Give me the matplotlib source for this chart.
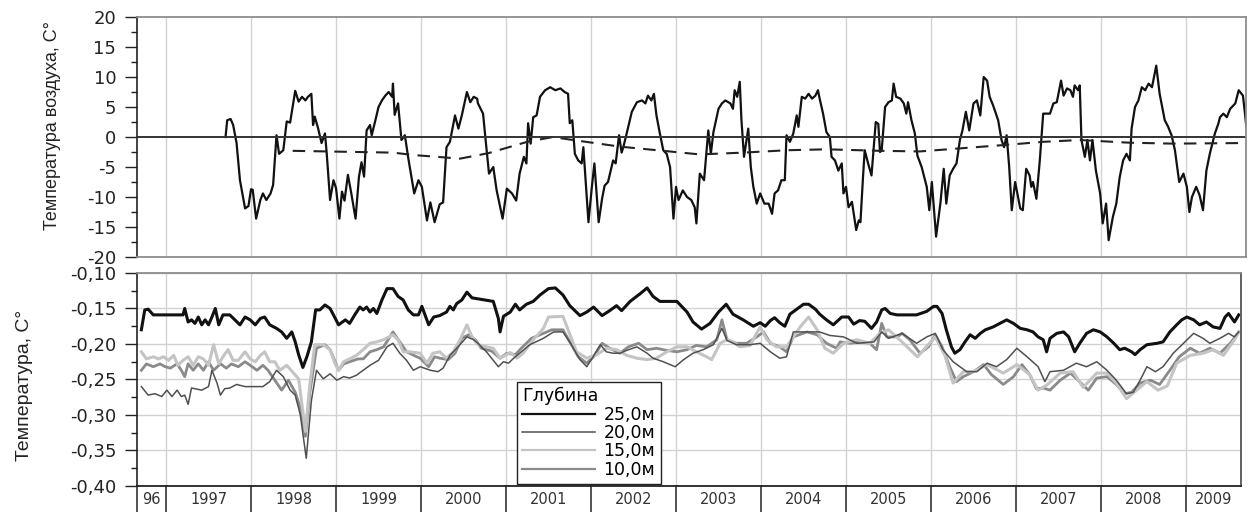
import matplotlib.pyplot as plt
from matplotlib.ticker import MultipleLocator, FuncFormatter

plt.rcParams['font.family'] = ['DejaVu Sans']
plt.rcParams['axes.unicode_minus'] = False

# air temperature, decimal year / degC
air_t = [1997.70, 1997.72, 1997.76, 1997.79, 1997.83, 1997.87, 1997.93, 1997.97, 1998.00, 1998.02,
         1998.06, 1998.11, 1998.14, 1998.18, 1998.23, 1998.26, 1998.30, 1998.33, 1998.38, 1998.42,
         1998.46, 1998.52, 1998.56, 1998.60, 1998.64, 1998.67, 1998.71, 1998.73, 1998.75, 1998.79,
         1998.83, 1998.87, 1998.89, 1998.93, 1998.97, 1999.00, 1999.04, 1999.07, 1999.10, 1999.14,
         1999.18, 1999.23, 1999.27, 1999.30, 1999.33, 1999.36, 1999.40, 1999.42, 1999.46, 1999.50,
         1999.54, 1999.58, 1999.62, 1999.66, 1999.67, 1999.69, 1999.73, 1999.77, 1999.81, 1999.85,
         1999.92, 1999.97, 2000.01, 2000.07, 2000.11, 2000.16, 2000.22, 2000.26, 2000.30, 2000.34,
         2000.40, 2000.44, 2000.48, 2000.54, 2000.58, 2000.62, 2000.66, 2000.67, 2000.73, 2000.76,
         2000.80, 2000.85, 2000.89, 2000.96, 2001.01, 2001.07, 2001.12, 2001.16, 2001.21, 2001.24,
         2001.26, 2001.29, 2001.32, 2001.36, 2001.40, 2001.46, 2001.52, 2001.58, 2001.64, 2001.69,
         2001.73, 2001.75, 2001.78, 2001.81, 2001.85, 2001.89, 2001.91, 2001.97, 2002.01, 2002.04,
         2002.09, 2002.13, 2002.16, 2002.20, 2002.26, 2002.29, 2002.33, 2002.36, 2002.38, 2002.42,
         2002.48, 2002.54, 2002.60, 2002.64, 2002.67, 2002.71, 2002.74, 2002.77, 2002.81, 2002.85,
         2002.89, 2002.93, 2002.97, 2003.00, 2003.03, 2003.08, 2003.13, 2003.18, 2003.22, 2003.24,
         2003.28, 2003.33, 2003.38, 2003.41, 2003.44, 2003.50, 2003.54, 2003.58, 2003.64, 2003.67,
         2003.69, 2003.72, 2003.75, 2003.77, 2003.80, 2003.85, 2003.88, 2003.91, 2003.95, 2003.99,
         2004.04, 2004.09, 2004.13, 2004.16, 2004.20, 2004.24, 2004.28, 2004.30, 2004.34, 2004.38,
         2004.42, 2004.44, 2004.48, 2004.52, 2004.56, 2004.60, 2004.64, 2004.67, 2004.69, 2004.73,
         2004.77, 2004.81, 2004.83, 2004.87, 2004.91, 2004.95, 2004.97, 2005.00, 2005.03, 2005.07,
         2005.12, 2005.15, 2005.17, 2005.20, 2005.22, 2005.26, 2005.30, 2005.35, 2005.38, 2005.40,
         2005.42, 2005.46, 2005.50, 2005.54, 2005.56, 2005.59, 2005.64, 2005.68, 2005.71, 2005.73,
         2005.77, 2005.81, 2005.84, 2005.89, 2005.95, 2005.98, 2006.01, 2006.06, 2006.11, 2006.15,
         2006.18, 2006.22, 2006.26, 2006.30, 2006.34, 2006.37, 2006.41, 2006.45, 2006.50, 2006.54,
         2006.58, 2006.62, 2006.66, 2006.69, 2006.73, 2006.79, 2006.83, 2006.86, 2006.89, 2006.92,
         2006.95, 2006.99, 2007.05, 2007.08, 2007.12, 2007.16, 2007.18, 2007.20, 2007.24, 2007.28,
         2007.32, 2007.40, 2007.44, 2007.48, 2007.53, 2007.56, 2007.60, 2007.64, 2007.67, 2007.69,
         2007.73, 2007.75, 2007.77, 2007.81, 2007.84, 2007.87, 2007.90, 2007.94, 2007.99, 2008.02,
         2008.06, 2008.09, 2008.14, 2008.18, 2008.22, 2008.26, 2008.30, 2008.34, 2008.36, 2008.40,
         2008.44, 2008.48, 2008.52, 2008.56, 2008.60, 2008.65, 2008.69, 2008.75, 2008.79, 2008.83,
         2008.87, 2008.92, 2008.97, 2009.01, 2009.04, 2009.07, 2009.12, 2009.16, 2009.20, 2009.24,
         2009.28, 2009.34, 2009.38, 2009.40, 2009.44, 2009.48, 2009.52, 2009.58, 2009.62, 2009.67,
         2009.69, 2009.71]
air_v = [0.0, 2.8, 3.0, 2.0, -1.0, -7.2, -11.9, -11.5, -8.7, -8.8,
         -13.6, -10.5, -9.4, -10.5, -9.4, -8.0, 0.3, -2.8, -2.2, 2.6,
         2.4, 7.7, 5.9, 6.7, 6.1, 6.7, 7.2, 2.0, 3.4, 1.4,
         -1.0, 0.6, -2.6, -10.5, -7.2, -8.5, -13.6, -9.1, -10.6, -6.3,
         -9.4, -13.6, -6.6, -4.2, -6.6, 1.1, 2.0, 0.3, 2.6, 5.0,
         6.1, 6.9, 7.5, 6.7, 8.9, 3.7, 5.6, -0.5, 0.3, -3.5,
         -9.4, -7.2, -8.3, -13.9, -10.9, -14.2, -11.2, -10.9, -1.7, -0.8,
         3.6, 1.4, 3.6, 7.5, 5.8, 6.7, 6.4, 5.6, 3.9, -0.5,
         -6.1, -5.0, -8.9, -13.6, -8.6, -9.4, -10.6, -6.1, -3.3, -4.4,
         2.3, -1.1, 3.3, 3.6, 6.7, 7.8, 8.3, 7.8, 8.1, 7.5,
         7.2, 2.3, 2.8, -2.8, -3.9, -4.4, -1.7, -14.2, -8.3, -4.4,
         -14.2, -10.3, -8.1, -7.5, -3.9, -4.4, 0.3, -2.6, -1.7, 0.6,
         4.2, 5.8, 6.1, 5.6, 6.9, 6.1, 7.2, 3.6, 0.6, -2.2,
         -2.8, -5.0, -13.6, -8.3, -10.5, -8.9, -10.0, -10.5, -11.7, -14.4,
         -6.1, -7.2, 1.1, -2.8, 0.8, 4.7, 5.6, 6.1, 5.6, 4.7,
         7.8, 6.7, 9.2, 2.8, -3.3, 1.4, -5.0, -8.3, -11.1, -9.4,
         -11.1, -11.1, -12.8, -9.4, -8.9, -7.2, -7.2, 0.3, -0.8, 0.6,
         3.6, 1.7, 6.7, 6.4, 7.2, 6.4, 6.9, 7.8, 6.4, 3.9,
         0.8, 0.0, -3.3, -3.9, -5.6, -4.4, -9.4, -8.3, -11.7, -10.8,
         -15.5, -13.9, -14.2, -6.7, -2.2, -4.4, -6.4, 2.5, 2.2, -2.5,
         -2.2, 5.0, 5.8, 6.1, 8.9, 6.7, 6.4, 5.6, 3.9, 5.8,
         2.8, 0.6, -3.1, -5.0, -8.3, -12.2, -7.5, -16.6, -11.1, -5.3,
         -11.1, -6.4, -5.3, -4.4, -0.5, 1.1, 4.2, 1.1, 5.6, 6.1,
         3.6, 10.0, 9.4, 6.7, 5.3, 2.8, -0.5, -1.7, 0.3, -5.0,
         -12.2, -7.5, -11.9, -12.2, -5.3, -6.4, -8.3, -7.5, -10.3, -3.9,
         3.9, 3.9, 5.6, 5.8, 9.4, 6.9, 8.1, 7.8, 6.7, 8.6,
         7.8, 8.6, -0.5, -3.3, -0.5, -3.9, -0.5, -5.6, -9.4, -14.4,
         -11.1, -17.2, -13.3, -11.1, -6.7, -3.9, -2.8, -3.9, 1.4, 5.0,
         6.1, 8.3, 7.8, 8.9, 8.3, 11.9, 7.2, 2.8, 1.7, 0.3,
         -2.2, -7.5, -6.1, -8.3, -12.5, -10.0, -8.3, -9.7, -12.2, -5.6,
         -2.8, 0.6, 2.2, 3.3, 3.9, 3.3, 4.7, 5.6, 7.8, 6.9,
         4.4, 1.7]

# running annual mean of air temperature
mean_t = [1998.49, 1999.67, 1999.91, 2000.46, 2000.79, 2001.25, 2001.55, 2001.79, 2002.34, 2002.85,
          2003.28, 2003.79, 2004.31, 2004.78, 2005.40, 2005.87, 2006.89, 2007.32, 2007.75, 2008.34,
          2008.85, 2009.69]
mean_v = [-2.3, -2.6, -3.0, -3.6, -2.7, -0.8, 0.0, -0.5, -1.6, -2.3,
          -2.9, -2.6, -2.2, -2.05, -2.3, -2.4, -1.3, -0.8, -0.5, -0.95,
          -1.1, -1.0]

# ground temperature, 25 m
t25 = [1996.71, 1996.75, 1996.79, 1996.85, 1997.20, 1997.22, 1997.26, 1997.30, 1997.34, 1997.38,
       1997.42, 1997.46, 1997.50, 1997.54, 1997.58, 1997.62, 1997.67, 1997.75, 1997.81, 1997.87,
       1997.93, 1997.99, 1998.05, 1998.11, 1998.16, 1998.22, 1998.30, 1998.36, 1998.42, 1998.48,
       1998.52, 1998.56, 1998.61, 1998.66, 1998.71, 1998.76, 1998.81, 1998.87, 1998.93, 1998.97,
       1999.03, 1999.11, 1999.16, 1999.22, 1999.28, 1999.32, 1999.36, 1999.40, 1999.44, 1999.48,
       1999.54, 1999.60, 1999.67, 1999.73, 1999.79, 1999.85, 1999.91, 1999.97, 2000.01, 2000.09,
       2000.15, 2000.22, 2000.30, 2000.34, 2000.38, 2000.42, 2000.48, 2000.54, 2000.60, 2000.85,
       2000.91, 2000.93, 2000.97, 2001.05, 2001.11, 2001.16, 2001.24, 2001.32, 2001.40, 2001.50,
       2001.58, 2001.67, 2001.75, 2001.87, 2001.95, 2002.03, 2002.13, 2002.22, 2002.30, 2002.36,
       2002.46, 2002.58, 2002.66, 2002.73, 2002.81, 2003.01, 2003.13, 2003.20, 2003.30, 2003.40,
       2003.50, 2003.59, 2003.67, 2003.79, 2003.91, 2003.99, 2004.05, 2004.11, 2004.16, 2004.22,
       2004.28, 2004.34, 2004.42, 2004.50, 2004.56, 2004.64, 2004.69, 2004.77, 2004.85, 2004.95,
       2005.03, 2005.09, 2005.16, 2005.22, 2005.30, 2005.36, 2005.42, 2005.46, 2005.52, 2005.60,
       2005.83, 2005.95, 2006.03, 2006.07, 2006.13, 2006.18, 2006.24, 2006.28, 2006.34, 2006.40,
       2006.46, 2006.52, 2006.58, 2006.64, 2006.73, 2006.81, 2006.89, 2006.97, 2007.05, 2007.13,
       2007.20, 2007.26, 2007.32, 2007.36, 2007.40, 2007.48, 2007.56, 2007.62, 2007.69, 2007.75,
       2007.83, 2007.91, 2007.99, 2008.07, 2008.15, 2008.22, 2008.28, 2008.36, 2008.40, 2008.46,
       2008.54, 2008.66, 2008.73, 2008.81, 2008.89, 2008.95, 2009.01, 2009.09, 2009.16, 2009.24,
       2009.32, 2009.40, 2009.46, 2009.50, 2009.57, 2009.62]
v25 = [-0.180, -0.152, -0.151, -0.159, -0.159, -0.150, -0.169, -0.166, -0.171, -0.162,
       -0.173, -0.166, -0.173, -0.162, -0.150, -0.173, -0.159, -0.159, -0.166, -0.173,
       -0.162, -0.166, -0.173, -0.164, -0.162, -0.173, -0.178, -0.183, -0.192, -0.183,
       -0.197, -0.215, -0.233, -0.217, -0.197, -0.152, -0.152, -0.145, -0.150, -0.159,
       -0.173, -0.166, -0.171, -0.159, -0.148, -0.152, -0.148, -0.155, -0.150, -0.157,
       -0.138, -0.122, -0.122, -0.133, -0.138, -0.152, -0.159, -0.159, -0.147, -0.173,
       -0.162, -0.160, -0.155, -0.147, -0.152, -0.143, -0.138, -0.127, -0.135, -0.140,
       -0.164, -0.183, -0.161, -0.155, -0.144, -0.152, -0.144, -0.140, -0.131, -0.122,
       -0.121, -0.131, -0.146, -0.160, -0.155, -0.148, -0.160, -0.153, -0.146, -0.153,
       -0.140, -0.129, -0.121, -0.133, -0.140, -0.140, -0.155, -0.169, -0.179, -0.171,
       -0.155, -0.144, -0.158, -0.166, -0.175, -0.170, -0.175, -0.167, -0.163, -0.170,
       -0.175, -0.158, -0.151, -0.144, -0.144, -0.151, -0.158, -0.166, -0.173, -0.162,
       -0.162, -0.172, -0.167, -0.168, -0.178, -0.169, -0.152, -0.150, -0.157, -0.159,
       -0.159, -0.154, -0.147, -0.147, -0.157, -0.180, -0.204, -0.213, -0.208, -0.197,
       -0.187, -0.192, -0.185, -0.180, -0.176, -0.171, -0.166, -0.171, -0.178, -0.180,
       -0.183, -0.190, -0.194, -0.211, -0.192, -0.185, -0.183, -0.190, -0.211, -0.199,
       -0.185, -0.180, -0.183, -0.190, -0.199, -0.208, -0.206, -0.211, -0.215, -0.208,
       -0.201, -0.199, -0.197, -0.183, -0.173, -0.166, -0.162, -0.166, -0.173, -0.169,
       -0.176, -0.178, -0.162, -0.157, -0.169, -0.159]

# ground temperature, 20 m
t20 = [1996.71, 1996.79, 1996.87, 1996.95, 1997.01, 1997.07, 1997.13, 1997.18, 1997.22, 1997.26,
       1997.30, 1997.42, 1997.50, 1997.54, 1997.60, 1997.64, 1997.69, 1997.75, 1997.83, 1997.93,
       1998.14, 1998.22, 1998.30, 1998.38, 1998.46, 1998.52, 1998.58, 1998.65, 1998.71, 1998.77,
       1998.85, 1998.93, 1999.01, 1999.09, 1999.16, 1999.24, 1999.32, 1999.40, 1999.50, 1999.60,
       1999.67, 1999.75, 1999.83, 1999.91, 1999.99, 2000.11, 2000.20, 2000.26, 2000.34, 2000.42,
       2000.54, 2000.62, 2000.67, 2000.77, 2000.91, 2000.97, 2001.03, 2001.09, 2001.16, 2001.28,
       2001.44, 2001.56, 2001.67, 2001.77, 2001.87, 2001.95, 2002.05, 2002.11, 2002.18, 2002.26,
       2002.34, 2002.42, 2002.54, 2002.66, 2002.73, 2002.85, 2002.99, 2003.09, 2003.20, 2003.32,
       2003.44, 2003.54, 2003.60, 2003.71, 2003.87, 2003.99, 2004.11, 2004.22, 2004.30, 2004.38,
       2004.58, 2004.69, 2004.81, 2004.97, 2005.13, 2005.33, 2005.42, 2005.50, 2005.66, 2005.83,
       2005.95, 2006.05, 2006.14, 2006.26, 2006.42, 2006.54, 2006.66, 2006.77, 2006.89, 2007.01,
       2007.13, 2007.26, 2007.34, 2007.40, 2007.56, 2007.71, 2007.83, 2007.95, 2008.07, 2008.18,
       2008.30, 2008.38, 2008.46, 2008.54, 2008.64, 2008.73, 2008.85, 2008.97, 2009.09, 2009.20,
       2009.28, 2009.40, 2009.50, 2009.57, 2009.62]
v20 = [-0.260, -0.272, -0.270, -0.274, -0.265, -0.274, -0.265, -0.274, -0.272, -0.285,
       -0.262, -0.265, -0.260, -0.237, -0.255, -0.272, -0.263, -0.262, -0.257, -0.260,
       -0.260, -0.253, -0.237, -0.246, -0.265, -0.272, -0.300, -0.361, -0.280, -0.237,
       -0.249, -0.242, -0.251, -0.246, -0.248, -0.244, -0.237, -0.230, -0.223, -0.204,
       -0.199, -0.213, -0.223, -0.237, -0.232, -0.237, -0.239, -0.234, -0.216, -0.206,
       -0.190, -0.194, -0.199, -0.211, -0.232, -0.225, -0.227, -0.220, -0.213, -0.201,
       -0.192, -0.183, -0.183, -0.201, -0.222, -0.232, -0.213, -0.201, -0.211, -0.213,
       -0.213, -0.209, -0.204, -0.213, -0.220, -0.225, -0.232, -0.222, -0.213, -0.208,
       -0.201, -0.178, -0.195, -0.201, -0.201, -0.199, -0.211, -0.220, -0.218, -0.183,
       -0.183, -0.183, -0.188, -0.190, -0.199, -0.197, -0.183, -0.192, -0.185, -0.199,
       -0.190, -0.185, -0.208, -0.225, -0.239, -0.239, -0.227, -0.232, -0.222, -0.206,
       -0.218, -0.232, -0.253, -0.239, -0.237, -0.227, -0.232, -0.225, -0.237, -0.251,
       -0.270, -0.268, -0.251, -0.232, -0.239, -0.232, -0.213, -0.199, -0.185, -0.192,
       -0.199, -0.192, -0.185, -0.190, -0.183]

# ground temperature, 15 m
t15 = [1996.71, 1996.77, 1996.85, 1996.91, 1996.97, 1997.03, 1997.09, 1997.14, 1997.20, 1997.26,
       1997.32, 1997.38, 1997.44, 1997.50, 1997.56, 1997.62, 1997.67, 1997.73, 1997.79, 1997.85,
       1997.93, 1997.99, 1998.05, 1998.11, 1998.16, 1998.22, 1998.28, 1998.34, 1998.42, 1998.50,
       1998.56, 1998.64, 1998.69, 1998.75, 1998.85, 1998.93, 1998.99, 1999.03, 1999.09, 1999.16,
       1999.24, 1999.32, 1999.40, 1999.48, 1999.56, 1999.67, 1999.73, 1999.79, 1999.87, 1999.99,
       2000.07, 2000.14, 2000.22, 2000.30, 2000.38, 2000.46, 2000.54, 2000.60, 2000.67, 2000.77,
       2000.85, 2000.93, 2000.99, 2001.05, 2001.13, 2001.20, 2001.32, 2001.44, 2001.50, 2001.67,
       2001.73, 2001.83, 2001.95, 2002.07, 2002.18, 2002.30, 2002.42, 2002.54, 2002.66, 2002.77,
       2002.89, 2003.01, 2003.13, 2003.24, 2003.36, 2003.42, 2003.52, 2003.60, 2003.67, 2003.75,
       2003.87, 2003.99, 2004.07, 2004.18, 2004.30, 2004.46, 2004.56, 2004.66, 2004.75, 2004.85,
       2004.97, 2005.13, 2005.28, 2005.40, 2005.50, 2005.64, 2005.84, 2006.05, 2006.16, 2006.26,
       2006.38, 2006.50, 2006.66, 2006.85, 2007.01, 2007.16, 2007.26, 2007.36, 2007.52, 2007.67,
       2007.79, 2007.95, 2008.07, 2008.18, 2008.30, 2008.42, 2008.54, 2008.67, 2008.78, 2008.89,
       2009.05, 2009.20, 2009.32, 2009.44, 2009.57, 2009.62]
v15 = [-0.211, -0.221, -0.218, -0.221, -0.218, -0.223, -0.216, -0.230, -0.223, -0.218,
       -0.230, -0.218, -0.221, -0.230, -0.201, -0.228, -0.218, -0.208, -0.223, -0.223,
       -0.211, -0.221, -0.225, -0.216, -0.211, -0.225, -0.225, -0.237, -0.230, -0.241,
       -0.249, -0.323, -0.260, -0.201, -0.201, -0.208, -0.228, -0.237, -0.225, -0.221,
       -0.216, -0.208, -0.199, -0.197, -0.194, -0.187, -0.194, -0.211, -0.211, -0.213,
       -0.227, -0.213, -0.211, -0.220, -0.211, -0.194, -0.173, -0.190, -0.201, -0.204,
       -0.206, -0.220, -0.216, -0.212, -0.220, -0.213, -0.194, -0.178, -0.162, -0.161,
       -0.180, -0.211, -0.220, -0.215, -0.206, -0.208, -0.216, -0.220, -0.222, -0.220,
       -0.211, -0.204, -0.204, -0.211, -0.218, -0.222, -0.199, -0.194, -0.197, -0.204,
       -0.202, -0.176, -0.194, -0.204, -0.204, -0.176, -0.162, -0.180, -0.206, -0.213,
       -0.199, -0.194, -0.199, -0.185, -0.180, -0.195, -0.218, -0.190, -0.215, -0.255,
       -0.239, -0.239, -0.229, -0.241, -0.229, -0.243, -0.265, -0.258, -0.241, -0.239,
       -0.261, -0.241, -0.241, -0.255, -0.277, -0.265, -0.253, -0.265, -0.259, -0.227,
       -0.216, -0.213, -0.208, -0.216, -0.194, -0.183]

# ground temperature, 10 m
t10 = [1996.71, 1996.77, 1996.85, 1996.93, 1996.99, 1997.05, 1997.13, 1997.18, 1997.22, 1997.26,
       1997.32, 1997.38, 1997.44, 1997.50, 1997.56, 1997.64, 1997.71, 1997.77, 1997.85, 1997.93,
       1997.99, 1998.07, 1998.14, 1998.20, 1998.28, 1998.36, 1998.44, 1998.52, 1998.58, 1998.64,
       1998.69, 1998.77, 1998.87, 1998.93, 1998.99, 1999.03, 1999.09, 1999.16, 1999.26, 1999.32,
       1999.40, 1999.48, 1999.56, 1999.67, 1999.75, 1999.83, 1999.95, 1999.99, 2000.09, 2000.16,
       2000.22, 2000.32, 2000.40, 2000.48, 2000.56, 2000.64, 2000.71, 2000.83, 2000.93, 2001.01,
       2001.11, 2001.18, 2001.30, 2001.40, 2001.54, 2001.67, 2001.75, 2001.85, 2001.95, 2002.03,
       2002.13, 2002.22, 2002.34, 2002.44, 2002.56, 2002.66, 2002.77, 2002.89, 2003.01, 2003.13,
       2003.24, 2003.36, 2003.48, 2003.54, 2003.60, 2003.71, 2003.83, 2003.95, 2004.03, 2004.11,
       2004.22, 2004.30, 2004.38, 2004.54, 2004.66, 2004.77, 2004.89, 2004.93, 2005.05, 2005.16,
       2005.28, 2005.36, 2005.42, 2005.48, 2005.60, 2005.66, 2005.75, 2005.87, 2005.97, 2006.05,
       2006.13, 2006.22, 2006.30, 2006.38, 2006.50, 2006.62, 2006.71, 2006.85, 2006.97, 2007.07,
       2007.16, 2007.24, 2007.32, 2007.40, 2007.52, 2007.64, 2007.73, 2007.85, 2007.95, 2008.07,
       2008.18, 2008.28, 2008.36, 2008.46, 2008.58, 2008.69, 2008.81, 2008.92, 2009.05, 2009.16,
       2009.28, 2009.40, 2009.52, 2009.62]
v10 = [-0.237, -0.228, -0.232, -0.228, -0.232, -0.234, -0.228, -0.237, -0.246, -0.228,
       -0.237, -0.228, -0.237, -0.225, -0.237, -0.228, -0.234, -0.228, -0.232, -0.225,
       -0.230, -0.237, -0.230, -0.237, -0.251, -0.265, -0.251, -0.268, -0.290, -0.330,
       -0.270, -0.206, -0.201, -0.208, -0.225, -0.237, -0.228, -0.225, -0.221, -0.221,
       -0.211, -0.208, -0.204, -0.183, -0.197, -0.211, -0.218, -0.220, -0.232, -0.218,
       -0.220, -0.222, -0.213, -0.192, -0.187, -0.194, -0.206, -0.210, -0.220, -0.213,
       -0.215, -0.206, -0.192, -0.187, -0.180, -0.180, -0.197, -0.218, -0.227, -0.218,
       -0.199, -0.206, -0.213, -0.204, -0.199, -0.208, -0.206, -0.209, -0.211, -0.208,
       -0.202, -0.204, -0.194, -0.166, -0.194, -0.199, -0.199, -0.190, -0.183, -0.199,
       -0.204, -0.211, -0.190, -0.183, -0.187, -0.199, -0.206, -0.197, -0.199, -0.197,
       -0.199, -0.208, -0.171, -0.190, -0.190, -0.185, -0.194, -0.213, -0.204, -0.187,
       -0.204, -0.232, -0.253, -0.246, -0.239, -0.229, -0.243, -0.257, -0.246, -0.229,
       -0.243, -0.263, -0.262, -0.265, -0.251, -0.241, -0.251, -0.265, -0.248, -0.246,
       -0.257, -0.270, -0.268, -0.255, -0.251, -0.257, -0.237, -0.218, -0.206, -0.213,
       -0.206, -0.213, -0.199, -0.183]

years = list(range(1997, 2010))
year_labels = ['96'] + [str(y) for y in years]
depth_labels = ['25,0м', '20,0м', '15,0м', '10,0м']
t_start, t_end_top, t_end_bottom = 1996.659, 2009.706, 2009.647

fig = plt.figure(figsize=(12.48, 5.12), dpi=100, facecolor='white')
ax1 = fig.add_axes([0.1098, 0.498, 0.8886, 0.46875])
ax2 = fig.add_axes([0.1098, 0.0508, 0.8846, 0.416])

grid_color = '#d2d2d2'
frame_color = '#8c8c8c'


def style_axis(ax):
    ax.tick_params(axis='y', which='major', direction='out', length=9, width=1,
                   color='#222222', labelsize=13, pad=6, labelcolor='#222222')
    ax.tick_params(axis='y', which='minor', direction='out', length=4.5, width=1, color='#222222')
    ax.tick_params(axis='x', which='both', length=0, labelbottom=False)
    ax.set_xticks(years)
    ax.spines['left'].set_color('#222222')
    ax.spines['left'].set_linewidth(1.2)
    for side in ('top', 'right', 'bottom'):
        ax.spines[side].set_color(frame_color)
        ax.spines[side].set_linewidth(1.3)


# --- air temperature panel ---
ax1.plot(air_t, air_v, color='#111111', lw=1.6, solid_joinstyle='round')
ax1.plot(mean_t, mean_v, color='#222222', lw=1.5, dashes=(6, 4))
ax1.axhline(0, color='#333333', lw=1.4)
ax1.set_xlim(t_start, t_end_top)
ax1.set_ylim(-20, 20)
ax1.yaxis.set_major_locator(MultipleLocator(5))
ax1.yaxis.set_minor_locator(MultipleLocator(2.5))
ax1.yaxis.set_major_formatter(FuncFormatter(lambda v, p: f'{v:.0f}'))
ax1.grid(axis='x', color=grid_color, lw=1)
style_axis(ax1)
ax1.set_ylabel('Температура воздуха, С°', fontsize=13,
               family=['Liberation Sans Narrow', 'Liberation Sans'], color='#222222')
ax1.yaxis.set_label_coords(-0.069, 0.546)

# --- ground temperature panel ---
l25, = ax2.plot(t25, v25, color='#111111', lw=2.2, solid_joinstyle='round')
l10, = ax2.plot(t10, v10, color='#8a8a8a', lw=2.0, solid_joinstyle='round')
l15, = ax2.plot(t15, v15, color='#c4c4c4', lw=2.2, solid_joinstyle='round')
l20, = ax2.plot(t20, v20, color='#505050', lw=1.1, solid_joinstyle='round')
ax2.set_xlim(t_start, t_end_bottom)
ax2.set_ylim(-0.40, -0.10)
ax2.yaxis.set_major_locator(MultipleLocator(0.05))
ax2.yaxis.set_minor_locator(MultipleLocator(0.025))
ax2.yaxis.set_major_formatter(FuncFormatter(lambda v, p: f'{v:.2f}'.replace('.', ',')))
ax2.grid(axis='both', which='major', color=grid_color, lw=1)
style_axis(ax2)
ax2.spines['bottom'].set_color('#222222')
ax2.spines['right'].set_color('#555555')
ax2.set_ylabel('Температура, С°', fontsize=14,
               family=['Liberation Sans Narrow', 'Liberation Sans'], color='#222222')
ax2.yaxis.set_label_coords(-0.094, 0.47)

# year row under the lower panel
edges = [t_start] + years + [t_end_bottom]
trans = ax2.get_xaxis_transform()
for x in edges[:-1]:
    ax2.plot([x, x], [0, -0.125], color='#333333', lw=1.2, transform=trans, clip_on=False)
for label, a, b in zip(year_labels, edges[:-1], edges[1:]):
    ax2.text((a + b) / 2, -0.062, label, transform=trans, ha='center', va='center',
             fontsize=10.5, color='#333333')

leg = ax2.legend([l25, l20, l15, l10], depth_labels,
                 title='Глубина', loc='lower left', bbox_to_anchor=(0.344, 0.01),
                 borderaxespad=0, fontsize=12.5, title_fontsize=12.5, alignment='left',
                 handlelength=4.2, handletextpad=0.5, labelspacing=0.02, borderpad=0.3,
                 fancybox=False, framealpha=1, edgecolor='#222222')
leg.get_frame().set_linewidth(1.0)
for h in leg.legend_handles:
    h.set_linewidth(min(h.get_linewidth(), 1.6))

plt.savefig('out.png', dpi=100, facecolor='white')
plt.close()
